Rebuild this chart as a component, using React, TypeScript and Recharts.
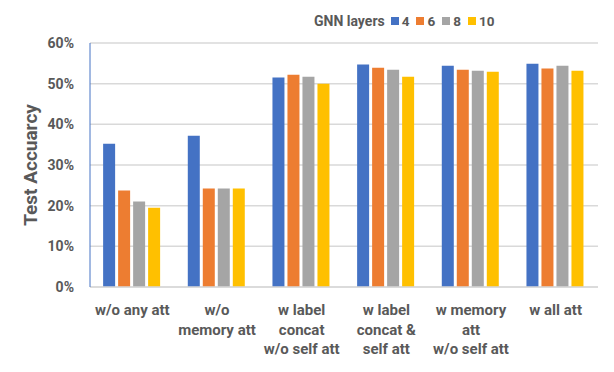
import { BarChart, Bar, XAxis, YAxis, CartesianGrid, Label } from "recharts";

const categories = [
  "w/o any att",
  "w/o\nmemory att",
  "w label\nconcat\nw/o self att",
  "w label\nconcat &\nself att",
  "w memory\natt\nw/o self att",
  "w all att",
];

const layers4 = [35.2, 37.2, 51.5, 54.7, 54.4, 54.9];
const layers6 = [23.7, 24.2, 52.2, 53.9, 53.4, 53.7];
const layers8 = [21.0, 24.2, 51.7, 53.4, 53.2, 54.4];
const layers10 = [19.5, 24.2, 50.0, 51.7, 52.9, 53.2];

const yTicks = [0, 10, 20, 30, 40, 50, 60];

const seriesNames = ["4", "6", "8", "10"];
const COLORS = ["#4472C4", "#ED7D31", "#A5A5A5", "#FFC000"];

const data = categories.map((name, i) => ({
  name,
  l4: layers4[i],
  l6: layers6[i],
  l8: layers8[i],
  l10: layers10[i],
}));

const FONT = "Roboto, 'Liberation Sans', sans-serif";
const TEXT_COLOR = "#595959";

const CategoryTick = (props: any) => {
  const { x, y, payload } = props;
  const lines = String(payload.value).split("\n");
  return (
    <text
      x={x}
      y={y}
      textAnchor="middle"
      fill={TEXT_COLOR}
      fontFamily={FONT}
      fontWeight="bold"
      fontSize={15}
    >
      {lines.map((line, i) => (
        <tspan key={i} x={x} y={y + 20 + i * 19.5}>
          {line}
        </tspan>
      ))}
    </text>
  );
};

// legend sits over the chart, top right, like the original
const ChartLegend = () => (
  <div
    style={{
      position: "absolute",
      top: 13,
      left: 314,
      display: "flex",
      alignItems: "center",
      fontFamily: FONT,
      fontWeight: "bold",
      color: TEXT_COLOR,
      fontSize: 13.5,
      lineHeight: "16px",
    }}
  >
    <span style={{ fontSize: 14, marginRight: 6 }}>GNN layers</span>
    {seriesNames.map((n, i) => (
      <span key={n} style={{ display: "flex", alignItems: "center", marginRight: 7 }}>
        <span
          style={{
            display: "inline-block",
            width: 8,
            height: 8,
            background: COLORS[i],
            marginRight: 3,
          }}
        />
        {n}
      </span>
    ))}
  </div>
);

export default function App() {
  const keys = ["l4", "l6", "l8", "l10"];
  return (
    <div style={{ position: "absolute", left: 0, top: 0, width: 614, height: 372, background: "#fff" }}>
      <BarChart
        width={614}
        height={372}
        data={data}
        margin={{ top: 43, right: 16, bottom: 0, left: 0 }}
        barCategoryGap="15.5%"
        barGap={3}
      >
        <CartesianGrid vertical={false} stroke="#D9D9D9" strokeWidth={1.5} />
        <XAxis
          dataKey="name"
          tick={<CategoryTick />}
          tickLine={false}
          axisLine={{ stroke: "#D9D9D9", strokeWidth: 1.5 }}
          interval={0}
          height={85}
        />
        <YAxis
          width={90}
          domain={[0, 60]}
          ticks={yTicks}
          tickFormatter={(v: number) => `${v}%`}
          tickLine={false}
          axisLine={{ stroke: "#4472C4", strokeWidth: 1 }}
          tick={{ fill: TEXT_COLOR, fontFamily: FONT, fontWeight: "bold", fontSize: 14 }}
          tickMargin={10}
          interval={0}
        >
          <Label
            value="Test Accuarcy"
            angle={-90}
            position="insideLeft"
            offset={30}
            style={{
              fill: TEXT_COLOR,
              fontFamily: FONT,
              fontWeight: "bold",
              fontSize: 19,
              textAnchor: "middle",
            }}
          />
        </YAxis>
        {keys.map((k, i) => (
          <Bar key={k} dataKey={k} name={seriesNames[i]} fill={COLORS[i]} isAnimationActive={false} />
        ))}
      </BarChart>
      <ChartLegend />
    </div>
  );
}
